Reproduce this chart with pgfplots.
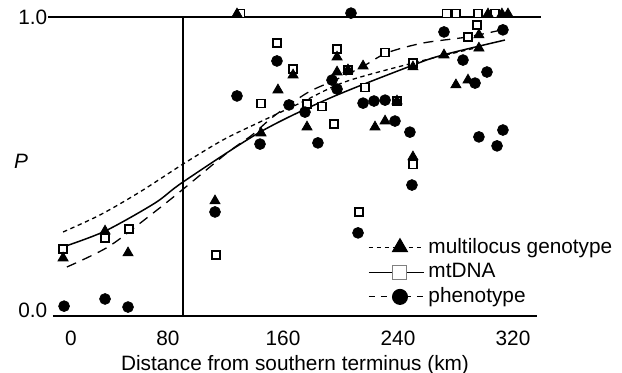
\documentclass[border=0pt]{standalone}
\usepackage{fontspec}
\setmainfont{Liberation Sans}
\usepackage{pgfplots}
\pgfplotsset{compat=1.18}
\begin{document}
\fontsize{10.4pt}{12pt}\selectfont
\begin{tikzpicture}
\begin{axis}[
  at={(26.5pt,28pt)}, anchor=south west,
  scale only axis, width=242pt, height=149.5pt,
  xmin=0, xmax=336.7, ymin=0, ymax=1,
  clip=false,
  axis x line*=bottom, axis y line*=left,
  y axis line style={draw=none},
  x axis line style={line width=1pt},
  major tick length=0pt,
  xtick={12.5,80,160,240,320}, xticklabels={0,80,160,240,320},
  xticklabel style={yshift=-4pt},
  xlabel style={yshift=2.5pt},
  ytick={0.02,1}, yticklabels={0.0,1.0},
  yticklabel style={xshift=0.8pt},
  /pgf/number format/assume math mode=true,
  xlabel={Distance from southern terminus (km)},
  legend style={at={(rel axis cs:0.651,0.275)}, anchor=north west, draw=none, fill=none, inner sep=0pt, row sep=-0.5pt},
  legend cell align=left,
]
% curves
\addplot[forget plot, smooth, black, line width=0.65pt, dash pattern=on 2.2pt off 1.8pt] coordinates {
(7.0,0.281) (32.7,0.338) (60.5,0.415) (90.4,0.508) (118.3,0.589) (144.0,0.649) (171.8,0.712) (203.1,0.783) (250.4,0.846) (297.0,0.900)};
\addplot[forget plot, smooth, black, line width=0.75pt] coordinates {
(7.0,0.231) (36.2,0.284) (71.0,0.378) (90.4,0.448) (144.0,0.615) (192.7,0.729) (250.4,0.839) (271.3,0.873) (314.4,0.923)};
\addplot[forget plot, smooth, black, line width=0.65pt, dash pattern=on 5pt off 3.5pt] coordinates {
(9.7,0.164) (38.3,0.231) (66.1,0.331) (89.7,0.421) (121.0,0.545) (138.4,0.605) (153.0,0.666) (176.7,0.746) (196.2,0.789) (215.0,0.833) (232.3,0.880) (257.4,0.913) (288.0,0.933) (312.3,0.957)};
% squares (mtDNA)
\addplot[forget plot, only marks, mark=square*, mark size=2pt, mark options={fill=white, draw=black, line width=0.6pt}] coordinates {
(7.0,0.224) (36.2,0.261) (52.9,0.291) (113.4,0.204) (130.5,1.013) (144.7,0.712) (155.8,0.913) (167.0,0.826) (176.7,0.709) (187.1,0.702) (195.5,0.642) (197.6,0.893) (205.2,0.823) (212.9,0.348) (217.0,0.763) (231.0,0.880) (239.3,0.719) (250.4,0.508) (250.4,0.846) (274.0,1.013) (280.3,1.013) (288.7,0.933) (295.0,0.973) (295.7,1.013) (307.5,1.013)};
% triangles (multilocus genotype)
\addplot[forget plot, only marks, mark=triangle*, mark size=2.9pt, mark options={fill=black, draw=black}] coordinates {
(7.0,0.194) (36.2,0.284) (52.2,0.211) (112.7,0.385) (128.0,1.01) (144.7,0.612) (156.5,0.756) (167.0,0.806) (176.7,0.632) (197.6,0.866) (197.6,0.816) (205.2,0.823) (215.7,0.836) (224.0,0.632) (231.0,0.652) (239.3,0.719) (250.4,0.532) (250.4,0.833) (272.0,0.873) (280.3,0.773) (288.7,0.789) (296.3,0.940) (296.3,0.896) (302.6,1.01) (312.3,1.01) (316.5,1.01)};
% circles (phenotype)
\addplot[forget plot, only marks, mark=*, mark size=2.7pt, mark options={fill=black, draw=black}] coordinates {
(7.7,0.033) (36.2,0.057) (52.2,0.030) (112.7,0.348) (128.0,0.736) (144.0,0.575) (155.8,0.853) (164.2,0.706) (175.3,0.682) (184.3,0.579) (194.1,0.789) (197.6,0.759) (207.3,1.013) (212.2,0.278) (215.7,0.712) (223.3,0.719) (231.0,0.722) (237.9,0.652) (248.3,0.615) (249.7,0.438) (272.0,0.950) (285.2,0.856) (293.6,0.779) (301.9,0.816) (313.0,0.957) (296.3,0.599) (308.9,0.569) (313.0,0.622)};
% legend
\addlegendimage{black, line width=0.5pt, dash pattern=on 2pt off 2pt, legend image code/.code={
  \path (0pt,0pt) -- (27.5pt,0pt);
  \draw (0pt,0pt) -- (11pt,0pt);
  \draw (20pt,0pt) -- (24pt,0pt);
  \draw[mark=triangle*, mark size=4.3pt, mark options={fill=black,draw=black,solid}] plot coordinates {(15.5pt,0pt)};}}
\addlegendentry{multilocus genotype}
\addlegendimage{black, line width=0.5pt, legend image code/.code={
  \path (0pt,0pt) -- (27.5pt,0pt);
  \draw (0pt,0pt) -- (22.5pt,0pt);
  \draw[mark=square*, mark size=3.5pt, mark options={fill=white,draw=gray,line width=0.5pt,solid}] plot coordinates {(15.5pt,0pt)};}}
\addlegendentry{mtDNA}
\addlegendimage{black, line width=0.5pt, dash pattern=on 3pt off 3pt, legend image code/.code={
  \path (0pt,0pt) -- (27.5pt,0pt);
  \draw (0pt,0pt) -- (22.5pt,0pt);
  \draw[mark=*, mark size=3.75pt, mark options={fill=black,draw=black,solid}] plot coordinates {(15.5pt,0pt)};}}
\addlegendentry{phenotype}
% frame lines
\draw[line width=1pt] ([xshift=-2.5pt]rel axis cs:0,1) -- ([xshift=2pt]rel axis cs:1,1);
\draw[line width=0.75pt] (axis cs:90.4,0) -- (axis cs:90.4,1);
\end{axis}
\node[font=\itshape] at (10.5pt,105.5pt) {P};
\pgfresetboundingbox
\path (0,0) rectangle (311pt,186pt);
\end{tikzpicture}
\end{document}
